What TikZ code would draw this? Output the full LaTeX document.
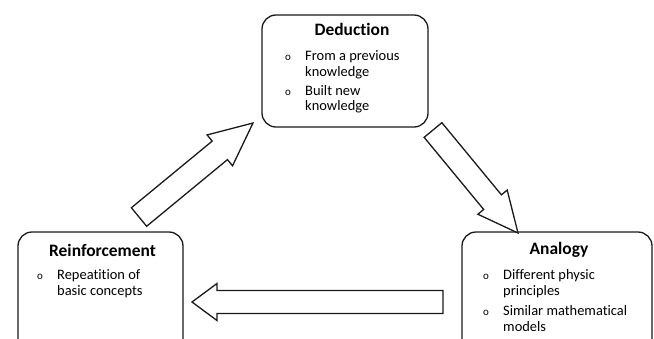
\documentclass[tikz,border=0pt]{standalone}
\usepackage{fontspec}
\setmainfont[RawFeature=-liga]{Carlito}
\usetikzlibrary{calc}
\def\wLine{1.3bp}
\definecolor{cInk}{HTML}{1A1A1A}
\tikzset{
  box/.style={draw=cInk, line width=\wLine, rounded corners=14bp, inner sep=0pt, fill=white},
  ttl/.style={font=\fontsize{17.5}{20}\selectfont\bfseries, anchor=base, inner sep=0pt},
  items/.style={font=\fontsize{14.5}{16}\selectfont, align=left, anchor=north west, inner sep=0pt},
  blk/.style={draw=cInk, line width=\wLine, fill=white, line join=miter},
}
\newcommand{\itm}{\makebox[20bp][l]{\fontsize{11}{11}\selectfont o}}
\newcommand{\itmskip}{\hspace*{20bp}}
% block arrow: tail, tip, half shaft, half head, head length
\newcommand{\blockarrow}[5]{%
  \coordinate (#2-base) at ($(#2)!#5!(#1)$);
  \draw[blk] ($(#1)!#3!90:(#2)$) -- ($(#2-base)!#3!-90:(#1)$) -- ($(#2-base)!#4!-90:(#1)$)
    -- (#2) -- ($(#2-base)!#4!90:(#1)$) -- ($(#2-base)!#3!90:(#1)$) -- ($(#1)!#3!-90:(#2)$) -- cycle;
}

\begin{document}
\begin{tikzpicture}[x={(1bp,0)}, y={(0,-1bp)}]
\useasboundingbox (0,0) rectangle (654,338);
\clip (0,0) rectangle (654,338);

% ---- the three boxes
\node[box, minimum width=166bp, minimum height=112bp] (ded)  at (345,71)    {};
\node[box, minimum width=165bp, minimum height=128bp] (rein) at (100.5,296) {};
\node[box, minimum width=190bp, minimum height=128bp] (ana)  at (557,296)   {};

% ---- titles and lists
\node[ttl] (dedT)  at (352,35)    {Deduction};
\node[ttl] (reinT) at (102.5,256) {Reinforcement};
\node[ttl] (anaT)  at (559,254)   {Analogy};

\node[items] (dedL)  at (285,50)  {\itm From a previous\\\itmskip knowledge\\[3bp]\itm Built new\\\itmskip knowledge};
\node[items] (reinL) at (37,269)  {\itm Repeatition of\\\itmskip basic concepts};
\node[items] (anaL)  at (483,269) {\itm Different physic\\\itmskip principles\\[4bp]\itm Similar mathematical\\\itmskip models};

% ---- block arrows round the cycle
\coordinate (upT) at (139,217); \coordinate (upH) at (253,123);
\coordinate (dnT) at (433,130); \coordinate (dnH) at (518,233);
\coordinate (lfT) at (443,302); \coordinate (lfH) at (192,302);
\blockarrow{upT}{upH}{12bp}{20bp}{43bp}
\blockarrow{dnT}{dnH}{11.5bp}{19bp}{40bp}
\blockarrow{lfT}{lfH}{11.5bp}{18.5bp}{25bp}
\end{tikzpicture}
\end{document}
